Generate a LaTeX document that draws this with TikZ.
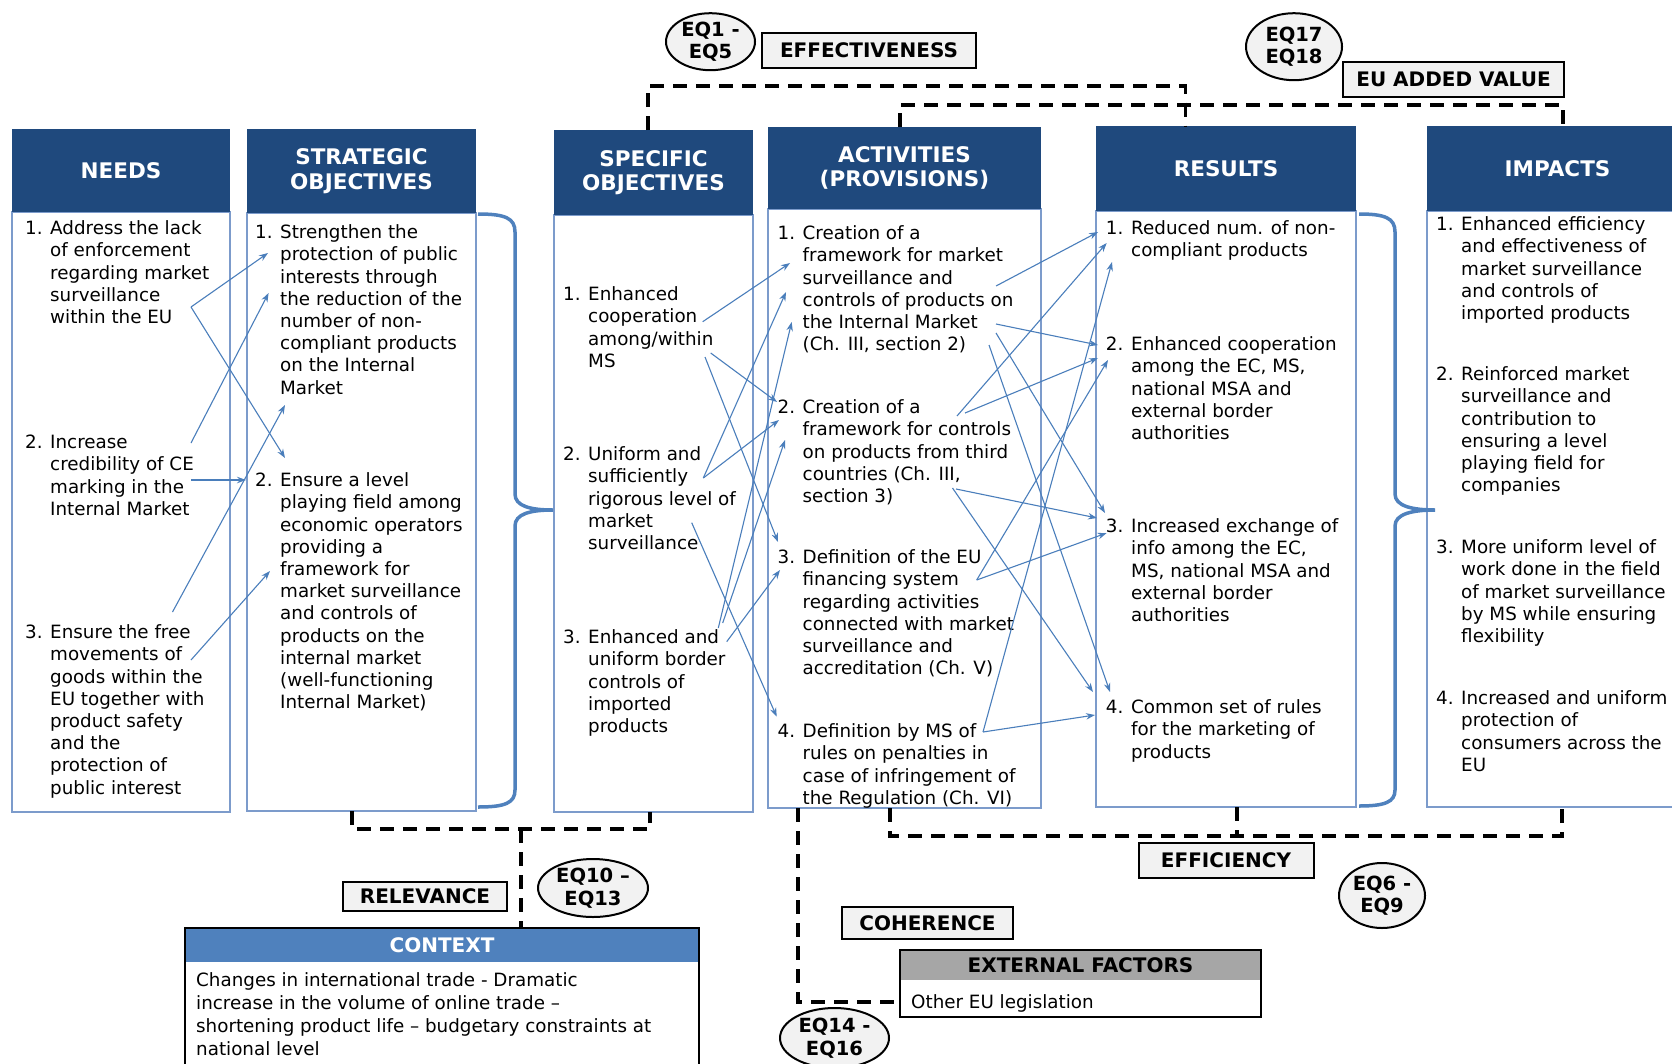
\documentclass[tikz,border=0pt]{standalone}
\usepackage{fontspec}
\setmainfont{DejaVu Sans}
\usetikzlibrary{arrows.meta,shapes.geometric}
\definecolor{hdrblue}{HTML}{1F497D}
\definecolor{bodyline}{HTML}{7C9BCB}
\definecolor{arrowblue}{HTML}{4A7EBB}
\definecolor{braceblue}{HTML}{4F81BD}
\definecolor{lblgray}{HTML}{F2F2F2}
\definecolor{ctxblue}{HTML}{4F81BD}
\definecolor{extgray}{HTML}{A6A6A6}
\newcommand{\hdrfont}{\bfseries\fontsize{21.5}{24.5}\selectfont}
\newcommand{\bodyfont}{\fontsize{18.3}{22.2}\selectfont}
\newcommand{\ctxfont}{\fontsize{18.3}{23}\selectfont}
\newcommand{\lblfont}{\bfseries\fontsize{20}{24}\selectfont}
\newcommand{\eqfont}{\bfseries\fontsize{19.5}{22.6}\selectfont}
\newcommand{\itm}[6]{%
  \node[itemtxt] (#1n) at (#2,#4) {\strut#5};
  \node[itemtxt] (#1) at (#3,#4) {\strut #6};}
\tikzset{
  hdr/.style={fill=hdrblue, draw=none, text=white, font=\hdrfont, align=center, inner sep=0pt},
  bodybox/.style={draw=bodyline, line width=1.3pt, fill=white, inner sep=0pt},
  itemtxt/.style={anchor=north west, inner sep=0pt, align=left, font=\bodyfont},
  lbl/.style={draw=black, line width=2pt, fill=lblgray, font=\lblfont, inner sep=0pt},
  eqnode/.style={ellipse, draw=black, line width=2pt, fill=lblgray, font=\eqfont, align=center, inner sep=0pt},
  link/.style={draw=arrowblue, line width=1.1pt, -{Stealth[length=9pt,width=6.5pt]}},
  dashline/.style={line width=3.8pt, dash pattern=on 14pt off 9pt},
  bracestyle/.style={draw=braceblue, line width=3.5pt},
}
\begin{document}
\begin{tikzpicture}[x=1pt,y=-1pt]
\useasboundingbox (0,0) rectangle (1672,1063);
\clip (0,0) rectangle (1672,1063);

% ---- columns ----
\node[bodybox, minimum width=218pt, minimum height=600pt] (needsB) at (121,512) {};
\node[hdr, minimum width=218pt, minimum height=83pt] (needsH) at (121,170.5) {NEEDS};
\node[bodybox, minimum width=229pt, minimum height=598pt] (stratB) at (361.5,512) {};
\node[hdr, minimum width=229pt, minimum height=84pt] (stratH) at (361.5,171) {STRATEGIC\\OBJECTIVES};
\node[bodybox, minimum width=199pt, minimum height=597pt] (specB) at (653.5,513.5) {};
\node[hdr, minimum width=199pt, minimum height=85pt] (specH) at (653.5,172.5) {SPECIFIC\\OBJECTIVES};
\node[bodybox, minimum width=273pt, minimum height=599pt] (actB) at (904.5,508.5) {};
\node[hdr, minimum width=273pt, minimum height=82pt] (actH) at (904.5,168) {ACTIVITIES\\(PROVISIONS)};
\node[bodybox, minimum width=260pt, minimum height=596pt] (resB) at (1226,509) {};
\node[hdr, minimum width=260pt, minimum height=85pt] (resH) at (1226,168.5) {RESULTS};
\node[bodybox, minimum width=261pt, minimum height=596pt] (impB) at (1557.5,509) {};
\node[hdr, minimum width=261pt, minimum height=85pt] (impH) at (1557.5,168.5) {IMPACTS};

% ---- braces ----
\draw[bracestyle] (478,214) .. controls (505,214) and (515,218) .. (515,232) -- (515,494)
  .. controls (515,506) and (530,510) .. (553,510)
  .. controls (530,510) and (515,514) .. (515,526) -- (515,790)
  .. controls (515,803) and (505,807) .. (478,807);
\draw[bracestyle] (1359,214) .. controls (1385,214) and (1395,218) .. (1395,232) -- (1395,494)
  .. controls (1395,506) and (1412,510) .. (1435,510)
  .. controls (1412,510) and (1395,514) .. (1395,526) -- (1395,790)
  .. controls (1395,802) and (1385,806) .. (1359,806);

% ---- items ----
\itm{nd1}{25}{50}{219}{1.}{Address the lack\\of enforcement\\regarding market\\surveillance\\within the EU}
\itm{nd2}{25}{50}{433}{2.}{Increase\\credibility of CE\\marking in the\\Internal Market}
\itm{nd3}{25}{50}{623}{3.}{Ensure the free\\movements of\\goods within the\\EU together with\\product safety\\and the\\protection of\\public interest}

\itm{so1}{255}{280}{223}{1.}{Strengthen the\\protection of public\\interests through\\the reduction of the\\number of non-\\compliant products\\on the Internal\\Market}
\itm{so2}{255}{280}{471}{2.}{Ensure a level\\playing field among\\economic operators\\providing a\\framework for\\market surveillance\\and controls of\\products on the\\internal market\\(well-functioning\\Internal Market)}

\itm{sp1}{563}{588}{285}{1.}{Enhanced\\cooperation\\among/within\\MS}
\itm{sp2}{563}{588}{445}{2.}{Uniform and\\sufficiently\\rigorous level of\\market\\surveillance}
\itm{sp3}{563}{588}{628}{3.}{Enhanced and\\uniform border\\controls of\\imported\\products}

\itm{ac1}{777.5}{802.5}{224}{1.}{Creation of a\\framework for market\\surveillance and\\controls of products on\\the Internal Market\\(Ch. III, section 2)}
\itm{ac2}{777.5}{802.5}{398}{2.}{Creation of a\\framework for controls\\on products from third\\countries (Ch. III,\\section 3)}
\itm{ac3}{777.5}{802.5}{548}{3.}{Definition of the EU\\financing system\\regarding activities\\connected with market\\surveillance and\\accreditation (Ch. V)}
\itm{ac4}{777.5}{802.5}{722}{4.}{Definition by MS of\\rules on penalties in\\case of infringement of\\the Regulation (Ch. VI)}

\itm{rs1}{1105.7}{1131}{219}{1.}{Reduced num. of non-\\compliant products}
\itm{rs2}{1105.7}{1131}{335}{2.}{Enhanced cooperation\\among the EC, MS,\\national MSA and\\external border\\authorities}
\itm{rs3}{1105.7}{1131}{517}{3.}{Increased exchange of\\info among the EC,\\MS, national MSA and\\external border\\authorities}
\itm{rs4}{1105.7}{1131}{698}{4.}{Common set of rules\\for the marketing of\\products}

\itm{im1}{1436}{1461}{215}{1.}{Enhanced efficiency\\and effectiveness of\\market surveillance\\and controls of\\imported products}
\itm{im2}{1436}{1461}{365}{2.}{Reinforced market\\surveillance and\\contribution to\\ensuring a level\\playing field for\\companies}
\itm{im3}{1436}{1461}{538}{3.}{More uniform level of\\work done in the field\\of market surveillance\\by MS while ensuring\\flexibility}
\itm{im4}{1436}{1461}{689}{4.}{Increased and uniform\\protection of\\consumers across the\\EU}

% ---- arrow end points ----
\coordinate (N1out) at (191,307);
\coordinate (N2outA) at (191,443);
\coordinate (N2outB) at (191,480);
\coordinate (N3outA) at (172.5,612);
\coordinate (N3outB) at (191,660);
\coordinate (S1inA) at (268,253);
\coordinate (S1inB) at (268.6,293);
\coordinate (S1inC) at (285,405);
\coordinate (S2inA) at (285,458);
\coordinate (S2inB) at (246,480);
\coordinate (S2inC) at (270,571);

\coordinate (O1outA) at (702.7,321.7);
\coordinate (O1outB) at (710.7,353);
\coordinate (O1outC) at (705,357);
\coordinate (O2outA) at (703.3,478);
\coordinate (O2outB) at (691.7,522.7);
\coordinate (O3outA) at (718.3,628);
\coordinate (O3outB) at (722.7,623);
\coordinate (O3outC) at (726.7,641.7);
\coordinate (A1inA) at (790,263);
\coordinate (A1inB) at (786,292);
\coordinate (A1inC) at (791.7,322);
\coordinate (A2inA) at (777,402);
\coordinate (A2inB) at (779,420);
\coordinate (A2inC) at (785,440);
\coordinate (A3inA) at (778,542);
\coordinate (A3inB) at (780,570);
\coordinate (A4inA) at (776.7,716.7);

\coordinate (A1outA) at (996,286);
\coordinate (A1outB) at (996,324);
\coordinate (A1outC) at (996,333);
\coordinate (A1outD) at (989,345);
\coordinate (A2outA) at (957,416);
\coordinate (A2outB) at (965,413);
\coordinate (A2outC) at (956,489);
\coordinate (A2outD) at (952.5,488);
\coordinate (A3out) at (976.7,580);
\coordinate (A4out) at (983,732);
\coordinate (R1inA) at (1098,232);
\coordinate (R1inB) at (1106.7,243);
\coordinate (R1inC) at (1112,262);
\coordinate (R2inA) at (1098,345);
\coordinate (R2inB) at (1098,358);
\coordinate (R2inC) at (1108,360);
\coordinate (R3inA) at (1105,513);
\coordinate (R3inB) at (1097,518);
\coordinate (R3inC) at (1106.7,533);
\coordinate (R4inA) at (1110,692);
\coordinate (R4inB) at (1093,692);
\coordinate (R4inC) at (1095,715);

% ---- arrows ----
\draw[link] (N1out) -- (S1inA);
\draw[link] (N1out) -- (S2inA);
\draw[link] (N2outA) -- (S1inB);
\draw[link] (N2outB) -- (S2inB);
\draw[link] (N3outA) -- (S1inC);
\draw[link] (N3outB) -- (S2inC);

\draw[link] (O1outA) -- (A1inA);
\draw[link] (O1outB) -- (A2inA);
\draw[link] (O1outC) -- (A3inA);
\draw[link] (O2outA) -- (A1inB);
\draw[link] (O2outA) -- (A2inB);
\draw[link] (O2outB) -- (A4inA);
\draw[link] (O3outA) -- (A1inC);
\draw[link] (O3outB) -- (A2inC);
\draw[link] (O3outC) -- (A3inB);

\draw[link] (A1outA) -- (R1inA);
\draw[link] (A1outB) -- (R2inA);
\draw[link] (A1outC) -- (R3inA);
\draw[link] (A1outD) -- (R4inA);
\draw[link] (A2outA) -- (R1inB);
\draw[link] (A2outB) -- (R2inB);
\draw[link] (A2outC) -- (R3inB);
\draw[link] (A2outD) -- (R4inB);
\draw[link] (A3out) -- (R2inC);
\draw[link] (A3out) -- (R3inC);
\draw[link] (A4out) -- (R1inC);
\draw[link] (A4out) -- (R4inC);

% ---- dashed evaluation lines ----
\coordinate (effA) at (648,130);
\coordinate (effB) at (1185.5,86);
\coordinate (effC) at (1185.5,126);
\draw[dashline] (effA) |- (effB) -- (effC);
\coordinate (euA) at (900,127);
\coordinate (euB) at (1563,105);
\coordinate (euC) at (1563,126);
\draw[dashline] (euA) |- (euB) -- (euC);
\coordinate (relA) at (352,811);
\coordinate (relB) at (650,829);
\coordinate (relC) at (650,812);
\coordinate (relD) at (521,829);
\coordinate (relE) at (521,928);
\draw[dashline] (relA) |- (relB) -- (relC);
\draw[dashline] (relD) -- (relE);
\coordinate (efA) at (890,808);
\coordinate (efB) at (1562,836);
\coordinate (efC) at (1562,807);
\coordinate (efD) at (1237,807);
\coordinate (efE) at (1237,836);
\draw[dashline] (efA) |- (efB) -- (efC);
\draw[dashline] (efD) -- (efE);
\coordinate (coA) at (798,808);
\coordinate (coB) at (900,1002);
\draw[dashline] (coA) |- (coB);

% ---- labels ----
\node[lbl, minimum width=214pt, minimum height=35pt] (effL) at (869,50.5) {EFFECTIVENESS};
\node[lbl, minimum width=221pt, minimum height=35pt] (euL) at (1453.5,79.5) {EU ADDED VALUE};
\node[lbl, minimum width=175pt, minimum height=35pt] (efL) at (1226,860.5) {EFFICIENCY};
\node[lbl, minimum width=164pt, minimum height=29pt] (relL) at (425,896.5) {RELEVANCE};
\node[lbl, minimum width=171pt, minimum height=32pt] (coL) at (927.5,923) {COHERENCE};

\node[eqnode, minimum width=89pt, minimum height=57pt] (eq1) at (710.5,41.7) {EQ1 -\\EQ5};
\node[eqnode, minimum width=96pt, minimum height=67pt] (eq17) at (1294,46.7) {EQ17\\EQ18};
\node[eqnode, minimum width=86pt, minimum height=65pt] (eq6) at (1382,895.5) {EQ6 -\\EQ9};
\node[eqnode, minimum width=110pt, minimum height=58pt] (eq10) at (593,888) {EQ10 –\\EQ13};
\node[eqnode, minimum width=109pt, minimum height=60pt] (eq14) at (834.5,1038) {EQ14 -\\EQ16};

% ---- context ----
\node[draw=black, line width=2pt, fill=white, minimum width=514pt, minimum height=162pt, inner sep=0pt] (ctxB) at (442,1009) {};
\node[fill=ctxblue, minimum width=512pt, minimum height=33pt, inner sep=0pt, text=white, font=\lblfont] (ctxH) at (442,945.5) {CONTEXT};
\node[itemtxt, font=\ctxfont] (ctxT) at (196,970.5) {\strut Changes in international trade - Dramatic\\increase in the volume of online trade –\\shortening product life – budgetary constraints at\\national level};

% ---- external factors ----
\node[draw=black, line width=2pt, fill=white, minimum width=361pt, minimum height=67pt, inner sep=0pt] (extB) at (1080.5,983.5) {};
\node[fill=extgray, minimum width=359pt, minimum height=29pt, inner sep=0pt, font=\lblfont] (extH) at (1080.5,965.5) {EXTERNAL FACTORS};
\node[itemtxt] (extT) at (911,992.7) {\strut Other EU legislation};
\end{tikzpicture}
\end{document}
